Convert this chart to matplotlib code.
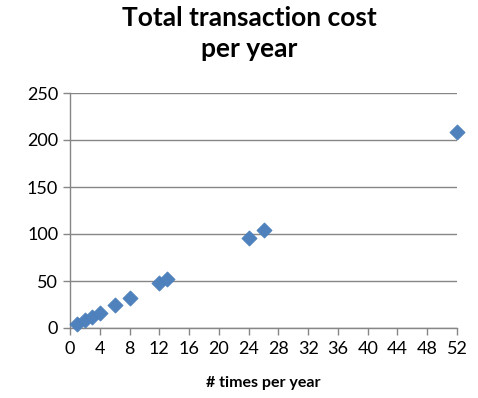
import matplotlib
matplotlib.use("Agg")
import matplotlib.pyplot as plt

times_per_year = [1, 2, 3, 4, 6, 8, 12, 13, 24, 26, 52]
total_cost = [4, 8, 12, 16, 24, 32, 48, 52, 96, 104, 208]
x_ticks = list(range(0, 53, 4))
y_ticks = [0, 50, 100, 150, 200, 250]

plt.rcParams['font.family'] = ['Lato', 'DejaVu Sans']

fig = plt.figure(figsize=(4.78, 3.98), dpi=100)
ax = fig.add_axes([70/478, 1-328/398, (457-70)/478, (328-93)/398])

ax.scatter(times_per_year, total_cost, marker='D', s=60, color='#4F81BD',
           edgecolors='#4A7EBB', linewidths=0.5, zorder=3, clip_on=False)

ax.set_xlim(0, 52)
ax.set_ylim(0, 250)
ax.set_xticks(x_ticks)
ax.set_yticks(y_ticks)
ax.grid(axis='y', color='#868686', linewidth=1.0)
ax.set_axisbelow(True)
for s in ['top', 'right']:
    ax.spines[s].set_visible(False)
for s in ['left', 'bottom']:
    ax.spines[s].set_color('#868686')
    ax.spines[s].set_linewidth(1.0)
ax.tick_params(axis='both', colors='#868686', labelcolor='black', labelsize=13,
               length=5, width=1.0)
ax.tick_params(axis='x', pad=4)

ax.set_xlabel('# times per year', fontsize=11.5, fontweight='bold', labelpad=14)
fig.suptitle('Total transaction cost\nper year', fontsize=19, fontweight='bold',
             x=(123+376)/2/478, y=1-6/398, va='top', linespacing=1.35)

fig.savefig('out.png', dpi=100)
